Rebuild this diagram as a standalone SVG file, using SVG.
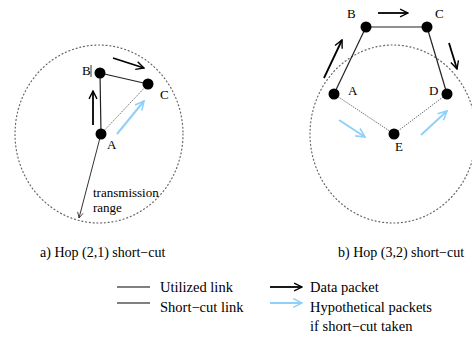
<svg xmlns="http://www.w3.org/2000/svg" width="472" height="338" viewBox="0 0 472 338">
  <style>
    text { font-family: "Liberation Serif", "Times New Roman", serif; font-size: 13px; fill: #000; }
    .cap { font-size: 14px; }
    .leg { font-size: 14.5px; }
    .range { fill: none; stroke: #666; stroke-width: 1.2; stroke-dasharray: 1 2.8; stroke-linecap: round; }
    .used { stroke: #222; stroke-width: 1.2; fill: none; }
    .cut { stroke: #777; stroke-width: 1; stroke-dasharray: 1.5 1; fill: none; }
    .node { fill: #000; }
    .pkt { stroke: #000; stroke-width: 1.8; fill: none; marker-end: url(#headBlack); }
    .hyp { stroke: #8fd0fa; stroke-width: 2; fill: none; marker-end: url(#headBlue); }
    .thin { stroke: #333; stroke-width: 1; fill: none; marker-end: url(#headThin); }
  </style>
  <defs>
    <marker id="headBlack" viewBox="0 0 10 10" refX="9" refY="5" markerWidth="5.5" markerHeight="5.5" orient="auto" markerUnits="strokeWidth">
      <path d="M1,1 L9,5 L1,9" fill="none" stroke="#000" stroke-width="1.4"/>
    </marker>
    <marker id="headBlue" viewBox="0 0 10 10" refX="9" refY="5" markerWidth="5.5" markerHeight="5.5" orient="auto" markerUnits="strokeWidth">
      <path d="M1,1 L9,5 L1,9" fill="none" stroke="#8fd0fa" stroke-width="1.4"/>
    </marker>
    <marker id="headThin" viewBox="0 0 10 10" refX="9" refY="5" markerWidth="7" markerHeight="7" orient="auto" markerUnits="strokeWidth">
      <path d="M1,1 L9,5 L1,9" fill="none" stroke="#333" stroke-width="1.2"/>
    </marker>
  </defs>

  <!-- a) Hop (2,1) short-cut -->
  <g id="range-a">
    <ellipse class="range" cx="99" cy="134" rx="84" ry="89"/>
  </g>
  <g id="connectors-a">
    <line class="used" x1="100" y1="73" x2="101" y2="134"/>
    <line class="used" x1="100" y1="73" x2="148" y2="84"/>
    <line class="cut" x1="101" y1="134" x2="148" y2="84"/>
    <line class="thin" x1="101" y1="134" x2="79" y2="218"/>
    <line class="pkt" x1="93" y1="125" x2="93" y2="91"/>
    <line class="pkt" x1="113" y1="58" x2="144" y2="68"/>
    <line class="hyp" x1="117" y1="134" x2="144" y2="101"/>
  </g>
  <g id="node-a-B">
    <circle class="node" cx="100" cy="73" r="5.5"/>
    <text x="82" y="75">B</text>
    <line x1="91" y1="65" x2="91" y2="77" stroke="#000" stroke-width="0.8"/>
  </g>
  <g id="node-a-C">
    <circle class="node" cx="148" cy="84" r="5.5"/>
    <text x="160" y="99">C</text>
  </g>
  <g id="node-a-A">
    <circle class="node" cx="101" cy="134" r="5.5"/>
    <text x="107" y="149">A</text>
  </g>
  <g id="label-range">
    <text x="93" y="197" font-size="10">transmission</text>
    <text x="93" y="212" font-size="10">range</text>
  </g>
  <text class="cap" x="40" y="257">a) Hop (2,1) short−cut</text>

  <!-- b) Hop (3,2) short-cut -->
  <g id="range-b">
    <ellipse class="range" cx="393" cy="134" rx="83" ry="89"/>
  </g>
  <g id="connectors-b">
    <line class="used" x1="334" y1="94" x2="366" y2="27"/>
    <line class="used" x1="366" y1="27" x2="427" y2="27" stroke-width="1.5"/>
    <line class="used" x1="427" y1="27" x2="447" y2="94"/>
    <line class="cut" x1="334" y1="94" x2="394" y2="134"/>
    <line class="cut" x1="394" y1="134" x2="447" y2="94"/>
    <line class="pkt" x1="378" y1="13" x2="408" y2="13"/>
    <line class="pkt" x1="324" y1="78" x2="342" y2="40"/>
    <line class="pkt" x1="449" y1="43" x2="457" y2="69"/>
    <line class="hyp" x1="339" y1="120" x2="365" y2="137"/>
    <line class="hyp" x1="421" y1="135" x2="447" y2="111"/>
  </g>
  <g id="node-b-B">
    <circle class="node" cx="366" cy="27" r="5.5"/>
    <text x="347" y="18">B</text>
  </g>
  <g id="node-b-C">
    <circle class="node" cx="427" cy="27" r="5.5"/>
    <text x="435" y="18">C</text>
  </g>
  <g id="node-b-A">
    <circle class="node" cx="334" cy="94" r="5.5"/>
    <text x="348" y="95">A</text>
  </g>
  <g id="node-b-D">
    <circle class="node" cx="447" cy="94" r="5.5"/>
    <text x="429" y="95">D</text>
  </g>
  <g id="node-b-E">
    <circle class="node" cx="394" cy="134" r="5.5"/>
    <text x="395" y="151">E</text>
  </g>
  <text class="cap" x="338" y="257">b) Hop (3,2) short−cut</text>

  <!-- legend -->
  <g id="legend">
    <line x1="117" y1="287" x2="150" y2="287" stroke="#000" stroke-width="1"/>
    <text class="leg" x="160" y="292">Utilized link</text>
    <line x1="117" y1="303" x2="150" y2="303" stroke="#000" stroke-width="1"/>
    <text class="leg" x="160" y="312">Short−cut link</text>
    <line class="pkt" x1="270" y1="287" x2="302" y2="287"/>
    <text class="leg" x="310" y="292">Data packet</text>
    <line class="hyp" x1="270" y1="303" x2="302" y2="303"/>
    <text class="leg" x="310" y="312">Hypothetical packets</text>
    <text class="leg" x="310" y="331">if short−cut taken</text>
  </g>
</svg>
